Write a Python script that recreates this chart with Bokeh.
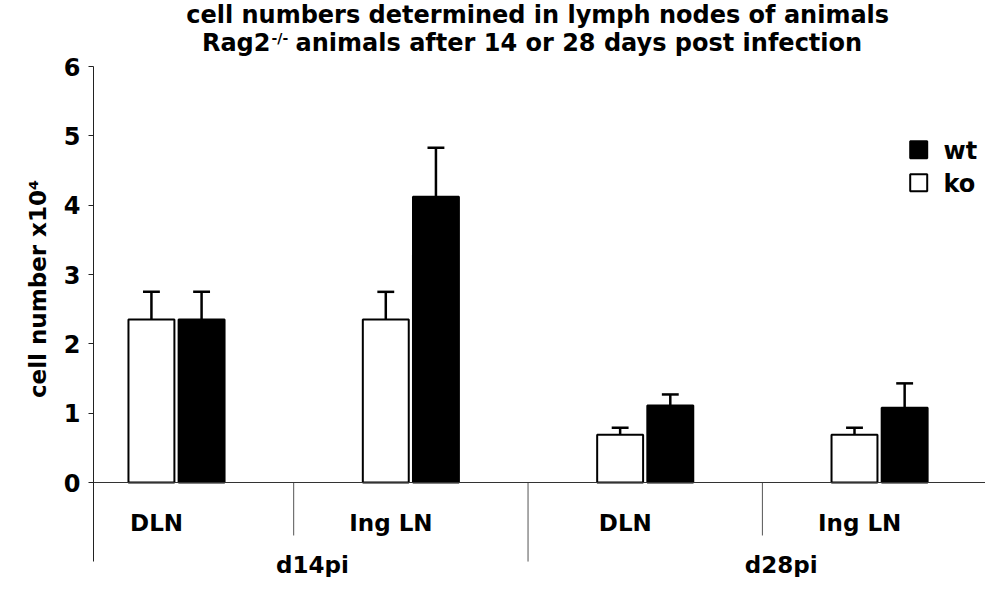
from bokeh.plotting import figure
from bokeh.models import Range1d, FixedTicker, Span
from bokeh.core.properties import value
from bokeh.embed import file_html
from bokeh.resources import INLINE

# ---------------- data ----------------
title_line1 = "cell numbers determined in lymph nodes of animals"
title_line2_a = "Rag2"
title_line2_sup = "-/-"
title_line2_b = "animals after 14 or 28 days post infection"
y_label = "cell number x10\u2074"
groups = ["d14pi", "d28pi"]
tissues = ["DLN", "Ing LN", "DLN", "Ing LN"]
series = ["wt", "ko"]
ko_mean = [2.35, 2.35, 0.69, 0.69]
ko_err = [0.40, 0.40, 0.10, 0.10]
wt_mean = [2.35, 4.12, 1.11, 1.08]
wt_err = [0.40, 0.71, 0.16, 0.35]
y_ticks = [0, 1, 2, 3, 4, 5, 6]

# ---------------- layout helpers ----------------
FONT = value("DejaVu Sans")
n = len(tissues)
per_group = n // len(groups)
centers = [i + 0.5 for i in range(n)]
off = 0.107
bw = 0.196
cap = 0.036
ko_x = [c - off for c in centers]
wt_x = [c + off for c in centers]

p = figure(width=985, height=577,
           x_range=Range1d(0.1458, 3.952), y_range=Range1d(-1.370, 6.952),
           output_backend="svg", toolbar_location=None,
           min_border_left=93, min_border_right=0, min_border_top=0, min_border_bottom=0,
           x_axis_location=None, title=None)
p.grid.grid_line_color = None
p.outline_line_color = None

# zero line (category axis)
p.add_layout(Span(location=0, dimension="width", line_color="#333333", line_width=1))

# category dividers
inner = [float(i) for i in range(1, n) if i % per_group != 0]
outer = [float(i) for i in range(1, n) if i % per_group == 0]
p.segment(x0=inner, y0=[0] * len(inner), x1=inner, y1=[-0.764] * len(inner),
          line_color="#555555", line_width=1)
p.segment(x0=outer, y0=[0] * len(outer), x1=outer, y1=[-1.14] * len(outer),
          line_color="#555555", line_width=1)

# bars
p.vbar(x=ko_x, bottom=0, top=ko_mean, width=bw, fill_color="white",
       line_color="black", line_width=2)
p.vbar(x=wt_x, bottom=0, top=wt_mean, width=bw, fill_color="black",
       line_color="black", line_width=2)

# error bars (upper only)
for xs, ms, es in ((ko_x, ko_mean, ko_err), (wt_x, wt_mean, wt_err)):
    tops = [m + e for m, e in zip(ms, es)]
    p.segment(x0=xs, y0=ms, x1=xs, y1=tops, line_color="black", line_width=2.5)
    p.segment(x0=[x - cap for x in xs], y0=tops, x1=[x + cap for x in xs], y1=tops,
              line_color="black", line_width=2.5)

# category labels
p.text(x=[c - 0.085 for c in centers], y=[-0.591] * n, text=tissues,
       text_font=FONT, text_font_style="bold", text_font_size="23px",
       text_align="center", text_baseline="alphabetic", text_color="black")
p.text(x=[per_group * g + per_group / 2 + 0.08 for g in range(len(groups))],
       y=[-1.183] * len(groups), text=groups,
       text_font=FONT, text_font_style="bold", text_font_size="23px",
       text_align="center", text_baseline="alphabetic", text_color="black")

# legend
p.scatter(x=[3.667, 3.667], y=[4.80, 4.325], marker="square", size=17,
          fill_color=["black", "white"], line_color="black", line_width=2)
p.text(x=[3.773, 3.773], y=[4.785, 4.31], text=series,
       text_font=FONT, text_font_style="bold", text_font_size="24px",
       text_align="left", text_baseline="alphabetic", text_color="black")

# title
p.text(x=[2.041], y=[6.736], text=[title_line1],
       text_font=FONT, text_font_style="bold", text_font_size="24px",
       text_align="center", text_baseline="alphabetic", text_color="black")
p.text(x=[0.901], y=[6.333], text=[title_line2_a],
       text_font=FONT, text_font_style="bold", text_font_size="24px",
       text_align="right", text_baseline="alphabetic", text_color="black")
p.text(x=[0.9055], y=[6.408], text=[title_line2_sup],
       text_font=FONT, text_font_style="bold", text_font_size="14px",
       text_align="left", text_baseline="alphabetic", text_color="black")
p.text(x=[1.008], y=[6.333], text=[title_line2_b],
       text_font=FONT, text_font_style="bold", text_font_size="24px",
       text_align="left", text_baseline="alphabetic", text_color="black")

# y axis
ax = p.yaxis[0]
ax.ticker = FixedTicker(ticks=y_ticks)
ax.bounds = (-1.14, 6)
ax.axis_line_color = "#222222"
ax.axis_line_width = 1
ax.major_tick_out = 5
ax.major_tick_in = 0
ax.minor_tick_out = 0
ax.minor_tick_in = 0
ax.major_tick_line_color = "#222222"
ax.major_label_text_font = "DejaVu Sans"
ax.major_label_text_font_style = "bold"
ax.major_label_text_font_size = "24px"
ax.major_label_text_color = "black"
ax.major_label_standoff = 8
ax.axis_label = y_label
ax.axis_label_text_font = "DejaVu Sans"
ax.axis_label_text_font_style = "bold"
ax.axis_label_text_font_size = "23px"
ax.axis_label_text_color = "black"
ax.axis_label_standoff = 10

open("out.html", "w").write(file_html(p, INLINE))
